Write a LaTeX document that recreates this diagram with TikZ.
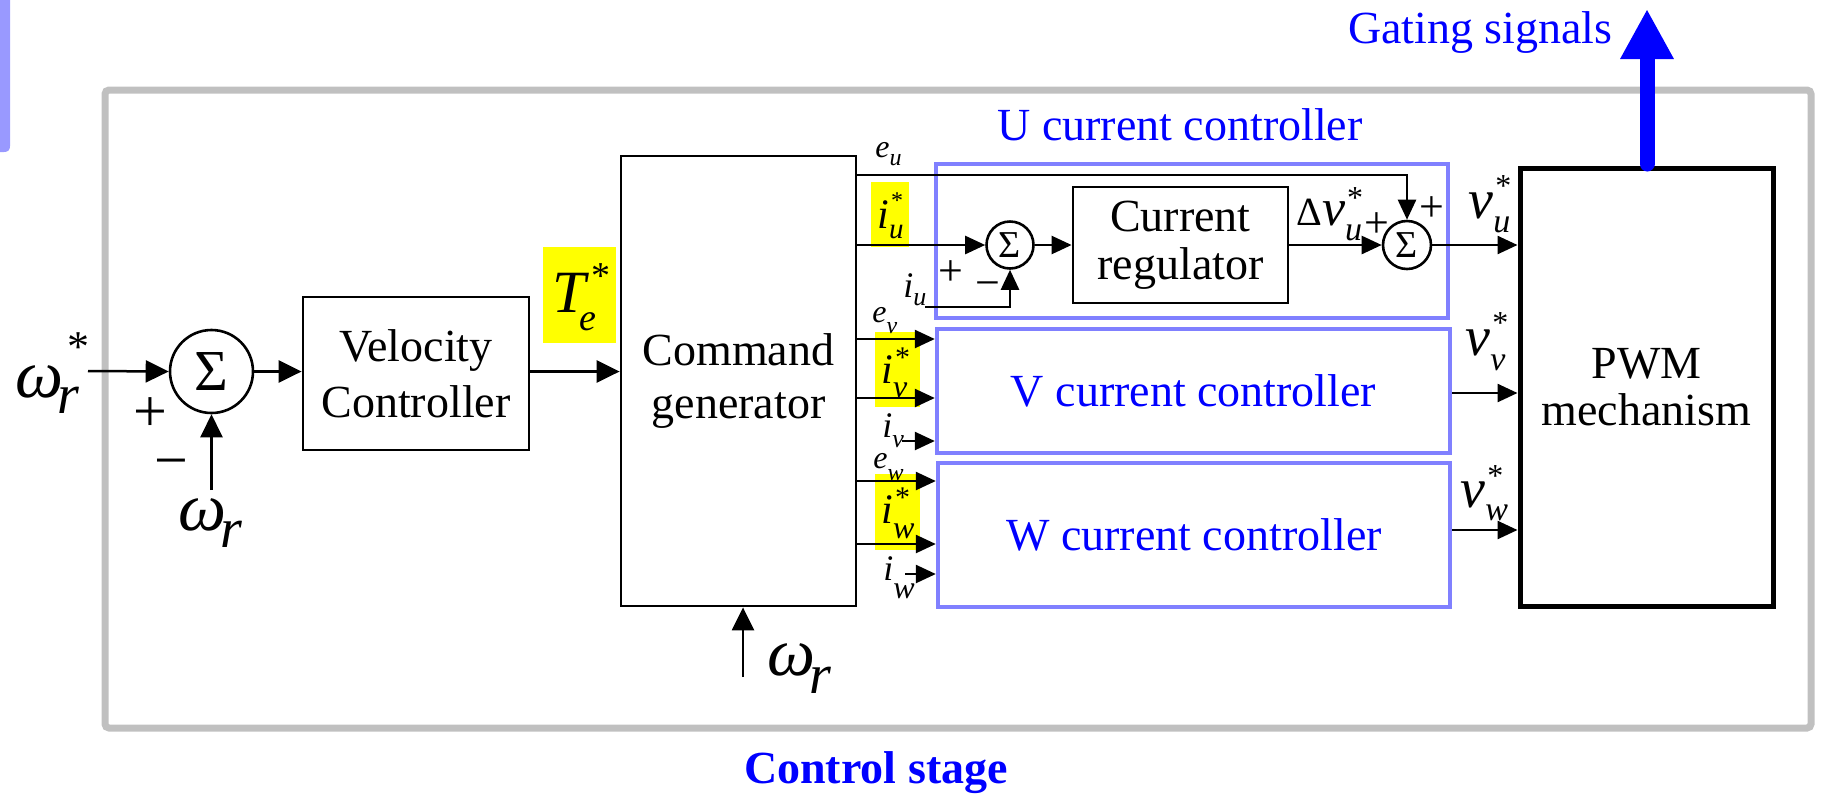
\documentclass[tikz,border=0pt]{standalone}
\usepackage{fontspec}
\setmainfont{Liberation Serif}
\usetikzlibrary{arrows.meta}
\definecolor{ublue}{RGB}{128,128,255}
\definecolor{frgray}{RGB}{192,192,192}
\definecolor{barcol}{RGB}{153,153,255}
\definecolor{hl}{RGB}{255,255,0}
\newcommand{\fs}[1]{\fontsize{#1}{#1}\selectfont}
\newcommand{\fsb}[2]{\fontsize{#1}{#2}\selectfont}
% main, sub, sub raise, sup, sup raise
\newcommand{\SbSp}[5]{{#1}\rlap{\raisebox{#5}{#4}}\raisebox{#3}{#2}}
\tikzset{
  blk/.style={draw, line width=1.4pt, inner sep=0pt, align=center},
  sumc/.style={draw, circle, line width=1.3pt, inner sep=0pt},
  ctrl/.style={draw=ublue, line width=2.2pt, inner sep=0pt, align=center, font={\fs{23}}, text=blue},
  sig/.style={line width=1.25pt, -{Triangle[length=10pt,width=9pt]}},
  sigL/.style={line width=1.25pt, -{Triangle[length=11.5pt,width=11pt]}},
  lab/.style={inner sep=0pt, anchor=base west},
  pm/.style={inner sep=0pt},
  hlbox/.style={fill=hl, draw=none}
}
\begin{document}
\begin{tikzpicture}[x=0.5pt,y=-0.5pt]
\useasboundingbox (0,0) rectangle (1826,794);
% left purple bar
\fill[barcol] (0,0) -- (10,0) -- (10,146) .. controls (10,150) and (8,152) .. (4,152) -- (0,152) -- cycle;
% control stage frame
\draw[frgray, line width=3.5pt, rounded corners=2pt] (105,90) rectangle (1811,728);
% highlights
\fill[hl] (543,247) rectangle (616,343);
\fill[hl] (871,182) rectangle (909,247);
\fill[hl] (875,332) rectangle (920,407);
\fill[hl] (875,474) rectangle (920,550);
% blocks
\node[sumc, minimum size=41.5pt, font={\fs{29}}] (sum0) at (211.5,371.5) {Σ};
\node[blk, minimum width=113pt, minimum height=76.5pt, font={\fsb{23}{28}}] (vel) at (416,373.5) {Velocity\\Controller};
\node[blk, minimum width=117.5pt, minimum height=225pt, font={\fsb{23}{26.5}}] (cmd) at (738.5,381) {Command\\generator};
\node[ctrl, minimum width=256pt, minimum height=77pt] (U) at (1192,241) {};
\node[ctrl, minimum width=256.5pt, minimum height=62pt] (V) at (1193.5,391) {V current controller};
\node[ctrl, minimum width=256pt, minimum height=72pt] (W) at (1194,535) {W current controller};
\node[blk, minimum width=107.5pt, minimum height=58pt, font={\fsb{23}{24}}] (reg) at (1180.5,245) {Current\\regulator};
\node[sumc, minimum size=23.5pt, font={\fs{19}}] (sum1) at (1010,245) {Σ};
\node[sumc, minimum size=24pt, font={\fs{19}}] (sum2) at (1407,245) {Σ};
\node[blk, line width=2.5pt, minimum width=126.5pt, minimum height=219pt, font={\fsb{23}{23.5}}] (pwm) at (1646.5,387) {PWM\\mechanism};
% titles
\node[anchor=base, inner sep=0pt, font={\fs{23}}, text=blue] (utitle) at (1180,140) {U current controller};
\node[anchor=base east, inner sep=0pt, font={\fs{23}}, text=blue] (gtitle) at (1613,43) {Gating signals};
\node[anchor=base, inner sep=0pt, font={\fs{23}\bfseries}, text=blue] (ctitle) at (876,783) {Control stage};
% coordinates of free ends
\coordinate (wrs) at (88,371);
\coordinate (wrb) at (211.5,490);
\coordinate (wrc) at (743,677);
\coordinate (iu) at (925,307);
\coordinate (ivs) at (902,441);
\coordinate (iws) at (905,574);
\coordinate (gt) at (1647,9);
% connectors
\draw[sigL] (wrs) -- (sum0.west);
\draw[sigL] (wrb) -- (sum0.south);
\draw[sigL] (sum0.east) -- (vel.west |- sum0.east);
\draw[sigL] (vel.east |- sum0.east) -- (cmd.west |- sum0.east);
\draw[sigL] (wrc) -- (wrc |- cmd.south);
\draw[sig] (cmd.east |- 0,175) -| (sum2.north);
\draw[sig] (cmd.east |- sum1.west) -- (sum1.west);
\draw[sig] (iu) -| (sum1.south);
\draw[sig] (sum1.east) -- (reg.west);
\draw[sig] (reg.east) -- (sum2.west);
\draw[sig] (sum2.east) -- (pwm.west |- sum2.east);
\draw[sig] (cmd.east |- 0,339) -- (V.west |- 0,339);
\draw[sig] (cmd.east |- 0,398) -- (V.west |- 0,398);
\draw[sig] (ivs) -- (V.west |- ivs);
\draw[sig] (cmd.east |- 0,481) -- (W.west |- 0,481);
\draw[sig] (cmd.east |- 0,544) -- (W.west |- 0,544);
\draw[sig] (iws) -- (W.west |- iws);
\draw[sig] (V.east |- 0,393) -- (pwm.west |- 0,393);
\draw[sig] (W.east |- 0,530) -- (pwm.west |- 0,530);
\draw[blue, line width=7.5pt, line cap=round, -{Triangle[length=25pt,width=25pt]}] (gt |- 0,164) -- (gt);
% signs
\node[pm, font={\fs{30}}] (p0) at (150,415) {+};
\node[pm, font={\fs{30}}] (m0) at (171,464) {\vphantom{+}−};
\node[pm, font={\fs{22}}] (p1) at (951,273) {+};
\node[pm, font={\fs{22}}] (m1) at (988,285) {\vphantom{+}−};
\node[pm, font={\fs{22}}] (p2) at (1377,225) {+};
\node[pm, font={\fs{22}}] (p3) at (1432,209) {+};
% labels
\node[lab] (lwrs) at (15,397) {\SbSp{\fs{34}\itshape ω}{\fs{28}\itshape\kern-3pt r}{-8pt}{\fs{22}\kern2pt *}{17.6pt}};
\node[lab] (lwrb) at (178,530) {{\fs{34}\itshape ω}\raisebox{-8.5pt}{\fs{28}\itshape\kern-3pt r}};
\node[lab] (lwrc) at (767,675) {{\fs{34}\itshape ω}\raisebox{-9pt}{\fs{28}\itshape\kern-3pt r}};
\node[lab] (lte) at (552,312) {\SbSp{\fs{30}\itshape T}{\fs{19}\itshape\kern-3pt e}{-9pt}{\fs{19}\kern3pt *}{12pt}};
\node[lab] (liu) at (877,228) {\SbSp{\fs{21}\itshape i}{\fs{14.5}\itshape u}{-5pt}{\fs{12}\kern1pt *}{10pt}};
\node[lab] (liv) at (881,383) {\SbSp{\fs{21}\itshape i}{\fs{16}\itshape v}{-7pt}{\fs{15}\kern1pt *}{8pt}};
\node[lab] (liw) at (881,523) {\SbSp{\fs{21}\itshape i}{\fs{16}\itshape w}{-7.5pt}{\fs{15}\kern1pt *}{8pt}};
\node[lab] (leu) at (875,157) {{\fs{16}\itshape e}\raisebox{-4pt}{\fs{12}\itshape u}};
\node[lab] (lev) at (872,322) {{\fs{16}\itshape e}\raisebox{-5.5pt}{\fs{12}\itshape v}};
\node[lab] (lew) at (873,468) {{\fs{16}\itshape e}\raisebox{-6pt}{\fs{12}\itshape w}};
\node[lab] (liu2) at (903,297) {{\fs{18}\itshape i}\raisebox{-4pt}{\fs{13}\itshape u}};
\node[lab] (liv2) at (882,437) {{\fs{18}\itshape i}\raisebox{-5pt}{\fs{13}\itshape v}};
\node[lab] (liw2) at (883,580) {{\fs{18}\itshape i}\raisebox{-9pt}{\fs{16}\itshape w}};
\node[lab] (ldv) at (1296,225) {\SbSp{\fs{20}Δ\fs{26}\itshape v}{\fs{17}\itshape u}{-7.5pt}{\fs{16}\kern1pt *}{8.5pt}};
\node[lab] (lvu) at (1468,218) {\SbSp{\fs{28}\itshape v}{\fs{17}\itshape u}{-7pt}{\fs{16}\kern1pt *}{10.7pt}};
\node[lab] (lvv) at (1465,355) {\SbSp{\fs{28}\itshape v}{\fs{17}\itshape v}{-7.5pt}{\fs{16}\kern1pt *}{10.7pt}};
\node[lab] (lvw) at (1460,507) {\SbSp{\fs{28}\itshape v}{\fs{17}\itshape w}{-6.5pt}{\fs{16}\kern1pt *}{10.5pt}};
\end{tikzpicture}
\end{document}
